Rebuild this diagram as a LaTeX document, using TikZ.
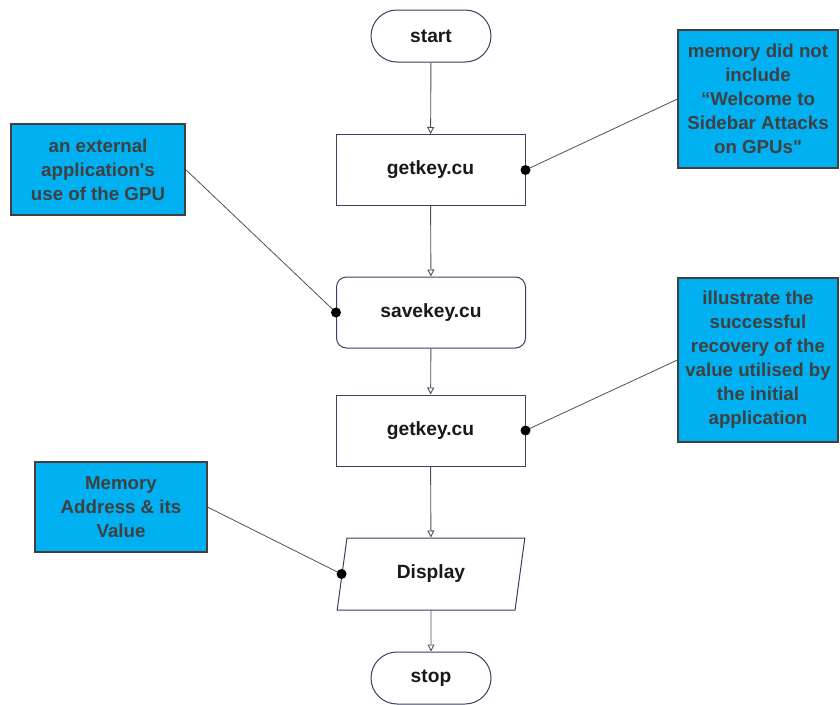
\documentclass[tikz,border=0pt]{standalone}
\usepackage{fontspec}
\setmainfont{Liberation Sans}[Ligatures=TeXOff]
\usetikzlibrary{arrows.meta,shapes.geometric}
\definecolor{edgenavy}{HTML}{3A4060}
\definecolor{notefill}{HTML}{00B0F0}
\definecolor{notetext}{HTML}{404040}
\definecolor{linegray}{HTML}{505050}
\tikzset{
  base/.style={font=\fontsize{19.2}{24}\selectfont\bfseries, text=black!90, align=center, inner sep=0pt},
  terminal/.style={base, draw=edgenavy, line width=1pt, fill=white, minimum width=120pt, minimum height=52pt, rounded corners=26pt},
  process/.style={base, draw=edgenavy, line width=1pt, fill=white, minimum width=189pt, minimum height=71pt},
  roundproc/.style={process, rounded corners=10pt},
  iobox/.style={base, draw=edgenavy, line width=1pt, fill=white, trapezium, trapezium left angle=77.5, trapezium right angle=102.5, trapezium stretches=true, minimum width=188pt, minimum height=72pt},
  note/.style={base, font=\fontsize{18.7}{24}\selectfont\bfseries, draw=notetext, line width=1.2pt, fill=notefill, text=notetext},
  flow/.style={draw=linegray, line width=0.9pt, -{Triangle[open, length=7pt, width=7pt, fill=white]}},
  link/.style={draw=linegray, line width=0.8pt},
  dot/.style={fill=black}
}
\begin{document}
\begin{tikzpicture}[x=1pt, y=-1pt]
  \useasboundingbox (0,0) rectangle (840,704);

  % main flow
  \node[terminal]  (start) at (431,36)  {start};
  \node[process]   (get1)  at (430.5,170) {getkey.cu};
  \node[roundproc] (save)  at (431,312.5) {savekey.cu};
  \node[process]   (get2)  at (430.5,430.5) {getkey.cu};
  \node[iobox]     (disp)  at (431,574) {Display};
  \node[terminal]  (stop)  at (431,678) {stop};

  \draw[flow] (start) -- (get1);
  \draw[flow] (get1) -- (save);
  \draw[flow] (save) -- (get2);
  \draw[flow] (get2) -- (disp);
  \draw[flow] (disp) -- (stop);

  % annotations
  \node[note, minimum width=160pt, minimum height=138pt] (n1) at (758,99)
    {memory did not\\include\\“Welcome to\\Sidebar Attacks\\on GPUs"};
  \node[note, minimum width=174pt, minimum height=91pt] (n2) at (98,169.5)
    {an external\\application's\\use of the GPU};
  \node[note, minimum width=160pt, minimum height=164pt] (n3) at (758,360)
    {illustrate the\\successful\\recovery of the\\value utilised by\\the initial\\application};
  \node[note, minimum width=172pt, minimum height=90pt] (n4) at (121,507)
    {Memory\\Address \& its\\Value};

  \draw[link] (n1.west) -- (get1.east);
  \draw[link] (n2.east) -- (save.west);
  \draw[link] (n3.west) -- (get2.east);
  \draw[link] (n4.east) -- (disp.west);

  \fill[dot] (get1.east) circle (5pt);
  \fill[dot] (save.west) circle (5pt);
  \fill[dot] (get2.east) circle (5pt);
  \fill[dot] (disp.west) circle (5pt);
\end{tikzpicture}
\end{document}
